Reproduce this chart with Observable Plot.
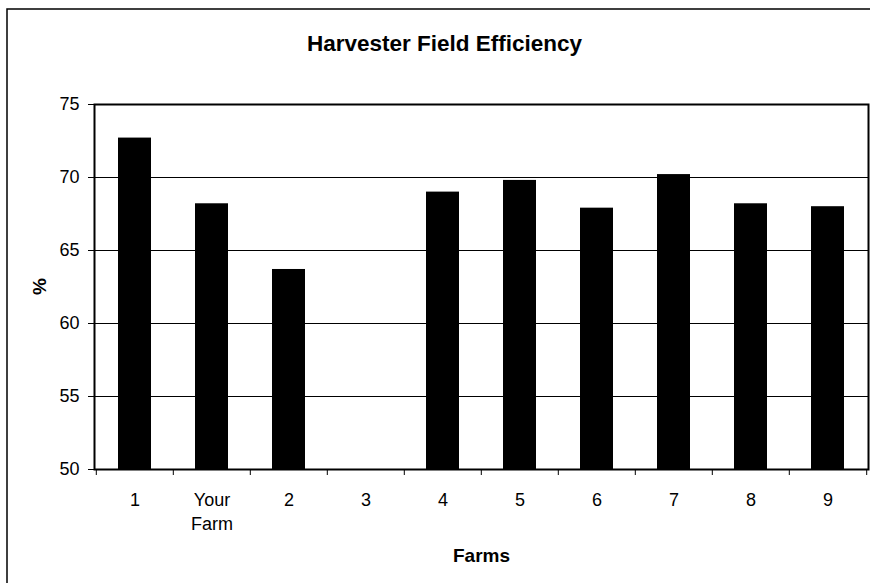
<!DOCTYPE html>
<html>
<head>
<meta charset="utf-8">
<script src="https://cdn.jsdelivr.net/npm/d3@7"></script>
<script src="https://cdn.jsdelivr.net/npm/@observablehq/plot@0.6"></script>
<style>
  html, body { margin: 0; padding: 0; background: #fff; overflow: hidden; }
</style>
</head>
<body>
<div id="chart"></div>
<script>
const title = "Harvester Field Efficiency";
const xLabel = "Farms";
const yLabel = "%";
const farms = ["1", "Your Farm", "2", "3", "4", "5", "6", "7", "8", "9"];
const efficiency = [72.7, 68.2, 63.7, null, 69.0, 69.8, 67.9, 70.2, 68.2, 68.0];
const yTicks = [50, 55, 60, 65, 70, 75];
const gridValues = [55, 60, 65, 70];

const data = farms.map((f, i) => ({farm: f, value: efficiency[i]})).filter(d => d.value != null);

const W = 870, H = 583;
const mL = 94, mR = 2, mT = 104, mB = 114;
const step = (W - mL - mR) / farms.length;

const chart = Plot.plot({
  width: W,
  height: H,
  marginLeft: mL,
  marginRight: mR,
  marginTop: mT,
  marginBottom: mB,
  style: {fontFamily: "'Liberation Sans', Arial, sans-serif", fontSize: "18px", color: "#000", background: "#fff"},
  x: {domain: farms, paddingInner: 0.574, paddingOuter: 0.287, label: null},
  y: {domain: [50, 75], label: null},
  marks: [
    Plot.ruleY(gridValues, {stroke: "#000", strokeWidth: 1}),
    Plot.barY(data, {x: "farm", y1: 50, y2: "value", fill: "#000"}),
    Plot.frame({stroke: "#000", strokeWidth: 2}),
    Plot.axisY({ticks: yTicks, tickSize: 6, tickPadding: 9, label: null, fontSize: 18}),
    // labels under category centers
    Plot.axisX({ticks: farms, tickSize: 0, tickPadding: 19, label: null, fontSize: 18, lineHeight: 1.35,
      tickFormat: d => d.replace(" ", "\n")}),
    // tick marks on category boundaries
    Plot.axisX({ticks: farms, tickSize: 6, dx: -step / 2, label: null, tickFormat: () => ""}),
    Plot.axisX({ticks: [farms[farms.length - 1]], tickSize: 6, dx: step / 2, label: null, tickFormat: () => ""}),
    Plot.text([title], {frameAnchor: "top", dx: -37, dy: -61, lineAnchor: "middle", fontWeight: "bold", fontSize: 22.5}),
    Plot.text([yLabel], {frameAnchor: "left", dx: -55, dy: 8, rotate: -90, lineAnchor: "middle", fontWeight: "bold", fontSize: 19}),
    Plot.text([xLabel], {frameAnchor: "bottom", dy: 86, lineAnchor: "middle", fontWeight: "bold", fontSize: 19})
  ]
});

// outer chart-area border (runs past the visible canvas on right and bottom)
d3.select(chart).insert("rect", ":first-child")
  .attr("x", 7).attr("y", 9).attr("width", W + 20).attr("height", H + 20)
  .attr("fill", "none").attr("stroke", "#000").attr("stroke-width", 1.5);

document.getElementById("chart").appendChild(chart);
</script>
</body>
</html>
